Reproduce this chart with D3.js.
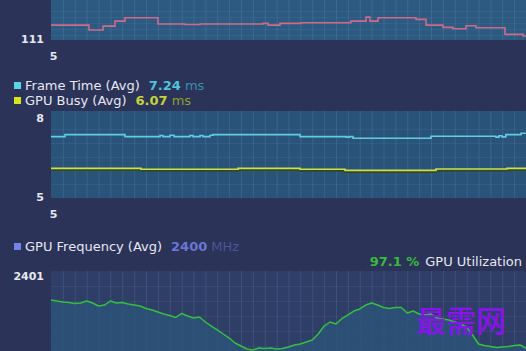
<!DOCTYPE html>
<html>
<head>
<meta charset="utf-8">
<script src="https://cdn.jsdelivr.net/npm/d3@7"></script>
<style>
	html, body { margin: 0; padding: 0; background: #2b3358; overflow: hidden; }
	svg { display: block; font-family: "DejaVu Sans", sans-serif; }
</style>
</head>
<body>
<div id="graphic"></div>
<script>
// frame rate (top panel), step breakpoints in seconds
const fpsTimes = [5, 8.2, 9.38, 10.39, 11.23, 14.01, 16.28, 17.55, 22.85, 23.27, 24.28, 26.05, 30.26, 31.53, 31.86, 32.54, 35.74, 36.58, 38.01, 38.85, 39.95, 40.79, 43.23, 44.75, 45];
const fpsValues = [136, 127.7, 134.3, 142.7, 148.2, 137.7, 137.0, 137.7, 138.8, 136.0, 138.8, 139.8, 142.7, 149.3, 142.7, 148.2, 145.5, 136, 132.2, 129.8, 134.8, 131.5, 120.5, 117.7, 117.7];

// frame time / gpu busy (middle panel)
const frameTimes = [5, 6.18, 11.23, 14.18, 14.43, 15.02, 15.36, 16.7, 16.96, 17.55, 17.8, 18.39, 18.64, 25.97, 29.84, 30.1, 30.43, 37.0, 42.47, 42.72, 42.98, 43.3, 44.58, 45];
const frameTimeMs = [7.22, 7.29, 7.22, 7.26, 7.22, 7.27, 7.22, 7.26, 7.22, 7.26, 7.22, 7.27, 7.29, 7.22, 7.20, 7.22, 7.16, 7.23, 7.20, 7.25, 7.21, 7.29, 7.34, 7.34];
const gpuBusyTimes = [5, 12.58, 20.75, 25.97, 29.76, 37.42, 43.4, 45];
const gpuBusyMs = [6.07, 6.04, 6.07, 6.04, 6.00, 6.05, 6.07, 6.07];

// gpu utilization (bottom panel), one sample every 0.5 s from 5 s
const utilStart = 5, utilStep = 0.5;
const gpuUtil = [95.17, 95.0, 94.83, 94.75, 94.58, 94.67, 95.0, 94.67, 94.17, 94.33, 95.0, 94.67, 94.75, 94.5, 94.33, 94.17, 93.75, 93.5, 93.17, 92.83, 92.58, 92.25, 92.92, 92.5, 92.17, 92.33, 91.5, 90.83, 90.17, 89.5, 88.83, 88.0, 87.5, 87.0, 86.83, 87.17, 87.08, 87.17, 87.0, 87.08, 87.33, 87.67, 87.83, 88.17, 88.5, 89.5, 90.83, 91.5, 91.17, 92.08, 92.67, 93.33, 93.67, 94.33, 94.67, 94.33, 93.92, 93.75, 93.92, 93.92, 93.0, 93.33, 92.83, 92.67, 92.83, 92.17, 92.0, 91.83, 91.5, 91.17, 90.67, 89.33, 87.83, 87.58, 87.42, 87.25, 87.33, 87.42, 87.58, 87.67, 87.17];

// tick labels
const fpsTicks = [111];
const msTicks = [5, 8];
const freqTicks = [2401];
const timeTicks = [5];

const width = 526, height = 351;

const svg = d3.select('#graphic')
	.append('svg')
	.attr('width', width)
	.attr('height', height);

svg.append('rect')
	.attr('width', width)
	.attr('height', height)
	.attr('fill', '#2b3358');

const x = d3.scaleLinear().domain([5, 45]).range([51, 526]);

const yFps = d3.scaleLinear().domain([111, 178]).range([40, 0]);
const yMs = d3.scaleLinear().domain([5, 8]).range([198, 115]);
const yUtil = d3.scaleLinear().domain([85, 100]).range([361, 271]);
const yFreq = d3.scaleLinear().domain([2399, 2401]).range([361, 271]);

function drawPanel(top, bottom, fill, yScale, hTicks) {
	let g = svg.append('g');
	g.append('rect')
		.attr('x', x(5))
		.attr('y', top)
		.attr('width', width - x(5))
		.attr('height', bottom - top)
		.attr('fill', fill);

	// vertical grid, one line a second
	g.append('g')
		.selectAll('line')
		.data(d3.range(6, 46))
		.join('line')
		.attr('x1', (d) => x(d) + 0.5)
		.attr('x2', (d) => x(d) + 0.5)
		.attr('y1', top)
		.attr('y2', bottom)
		.attr('stroke', '#8fc4ee')
		.attr('stroke-opacity', 0.15);

	g.append('g')
		.selectAll('line')
		.data(hTicks)
		.join('line')
		.attr('x1', x(5))
		.attr('x2', width)
		.attr('y1', (d) => Math.round(yScale(d)) + 0.5)
		.attr('y2', (d) => Math.round(yScale(d)) + 0.5)
		.attr('stroke', '#8fc4ee')
		.attr('stroke-opacity', 0.08);
	return g;
}

function yLabels(scale, ticks, dyFn) {
	let g = svg.append('g')
		.attr('transform', `translate(${x(5)},0)`)
		.call(d3.axisLeft(scale).tickValues(ticks).tickSize(0).tickPadding(7).tickFormat(d3.format('d')));
	g.select('.domain').remove();
	g.selectAll('text')
		.attr('dy', dyFn)
		.attr('fill', '#e6e8f2')
		.style('font-size', '11px')
		.style('font-weight', 'bold')
		.style('font-family', '"DejaVu Sans", sans-serif');
}

function xLabels(yPos) {
	let g = svg.append('g')
		.attr('transform', `translate(0,${yPos})`)
		.call(d3.axisBottom(x).tickValues(timeTicks).tickSize(0).tickPadding(0).tickFormat(d3.format('d')));
	g.select('.domain').remove();
	g.selectAll('text')
		.attr('dx', 2)
		.attr('fill', '#e6e8f2')
		.style('font-size', '11px')
		.style('font-weight', 'bold')
		.style('font-family', '"DejaVu Sans", sans-serif');
}

// ---- top panel: frame rate
drawPanel(-50, 40, '#2d5a80', yFps, [120, 130, 140, 150, 160]);
svg.append('path')
	.datum(d3.zip(fpsTimes, fpsValues))
	.attr('fill', 'none')
	.attr('stroke', '#cf6a8a')
	.attr('stroke-width', 1.6)
	.attr('d', d3.line().x((d) => x(d[0])).y((d) => yFps(d[1])).curve(d3.curveStepAfter));
yLabels(yFps, fpsTicks, '2px');
xLabels(52);

// ---- legend for middle panel
function legendRow(yPos, colour, label, value, unit, valueColour, unitColour) {
	svg.append('rect')
		.attr('x', 14).attr('y', yPos - 8)
		.attr('width', 7).attr('height', 7)
		.attr('fill', colour);
	let t = svg.append('text')
		.attr('x', 25).attr('y', yPos)
		.style('font-size', '13px')
		.attr('fill', '#e6e8f2');
	t.append('tspan').text(label);
	t.append('tspan').attr('dx', 9).attr('fill', valueColour).style('font-weight', 'bold').text(value);
	t.append('tspan').attr('dx', 4).attr('fill', unitColour).text(unit);
}

legendRow(90, '#5ad2ea', 'Frame Time (Avg)', '7.24', 'ms', '#4fc2dc', '#3b8fae');
legendRow(105, '#d8e21e', 'GPU Busy (Avg)', '6.07', 'ms', '#c4d338', '#8e9f32');

// ---- middle panel: frame time & gpu busy
drawPanel(111, 198, '#2a5379', yMs, [5.5, 6, 6.5, 7, 7.5]);

const msLine = d3.line().x((d) => x(d[0])).y((d) => yMs(d[1])).curve(d3.curveStepAfter);

svg.append('path')
	.datum(d3.zip(gpuBusyTimes, gpuBusyMs))
	.attr('fill', 'none')
	.attr('stroke', '#2f4a22')
	.attr('stroke-width', 2)
	.attr('transform', 'translate(0,1.6)')
	.attr('d', msLine);
svg.append('path')
	.datum(d3.zip(gpuBusyTimes, gpuBusyMs))
	.attr('fill', 'none')
	.attr('stroke', '#cfe04a')
	.attr('stroke-width', 1.6)
	.attr('d', msLine);
svg.append('path')
	.datum(d3.zip(frameTimes, frameTimeMs))
	.attr('fill', 'none')
	.attr('stroke', '#62cbe6')
	.attr('stroke-width', 1.6)
	.attr('d', msLine);

yLabels(yMs, msTicks, (d) => d === 8 ? '6px' : '2px');
xLabels(210);

// ---- bottom panel: gpu frequency / utilization
let freqText = svg.append('text')
	.attr('x', 25).attr('y', 251)
	.style('font-size', '13px')
	.attr('fill', '#e6e8f2');
svg.append('rect')
	.attr('x', 14).attr('y', 243)
	.attr('width', 7).attr('height', 7)
	.attr('fill', '#7483e6');
freqText.append('tspan').text('GPU Frequency (Avg)');
freqText.append('tspan').attr('dx', 9).attr('fill', '#6a76d6').style('font-weight', 'bold').text('2400');
freqText.append('tspan').attr('dx', 4).attr('fill', '#4b5599').text('MHz');

let utilText = svg.append('text')
	.attr('x', 522).attr('y', 266)
	.attr('text-anchor', 'end')
	.style('font-size', '13px')
	.attr('fill', '#e6e8f2');
utilText.append('tspan').attr('fill', '#36bb3e').style('font-weight', 'bold').text('97.1 %');
utilText.append('tspan').attr('dx', 6).text('GPU Utilization');

drawPanel(271, 361, '#2e3e67', yUtil, [87.5, 90, 92.5, 95, 97.5]);

const utilData = gpuUtil.map((v, i) => [utilStart + i * utilStep, v]);

svg.append('path')
	.datum(utilData)
	.attr('fill', '#2c5479')
	.attr('fill-opacity', 0.8)
	.attr('d', d3.area().x((d) => x(d[0])).y0(361).y1((d) => yUtil(d[1])));

svg.append('path')
	.datum(utilData)
	.attr('fill', 'none')
	.attr('stroke', '#34c03e')
	.attr('stroke-width', 1.5)
	.attr('stroke-linejoin', 'round')
	.attr('d', d3.line().x((d) => x(d[0])).y((d) => yUtil(d[1])));

yLabels(yFreq, freqTicks, '8.5px');

// watermark
svg.append('text')
	.attr('x', 416)
	.attr('y', 332)
	.attr('fill', '#8a12ef')
	.style('font-family', '"Noto Sans CJK SC", sans-serif')
	.style('font-size', '30px')
	.style('font-weight', 500)
	.text('最需网');
</script>
</body>
</html>
